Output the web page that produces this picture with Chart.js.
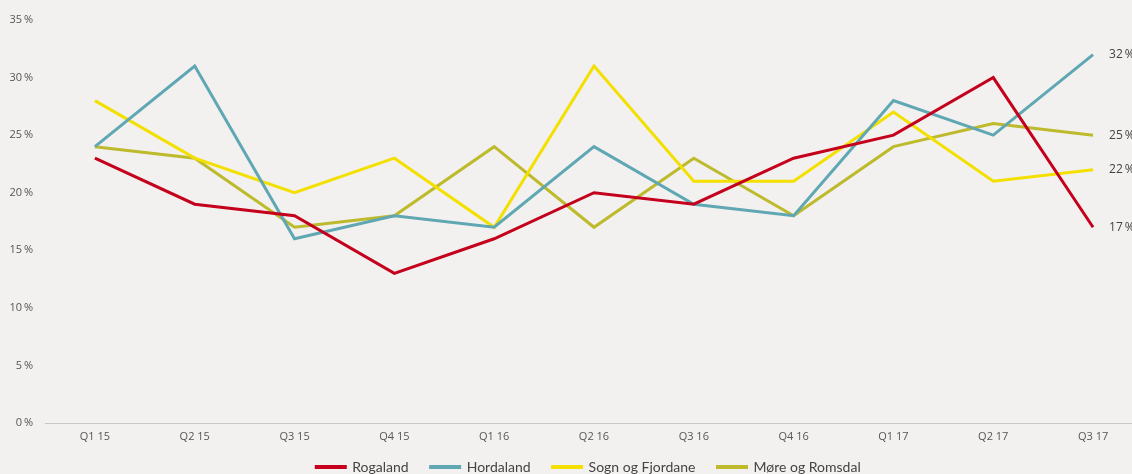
<!DOCTYPE html>
<html>
<head>
<meta charset="utf-8">
<script src="https://cdn.jsdelivr.net/npm/chart.js@4.4.1/dist/chart.umd.min.js"></script>
<style>
  html, body { margin: 0; padding: 0; background: #f2f1ef; }
  #wrap { width: 1132px; height: 474px; }
</style>
</head>
<body>
<div id="wrap"><canvas id="grafico" width="1132" height="474"></canvas></div>
<script>
var kvartaler = ["Q1 15", "Q2 15", "Q3 15", "Q4 15", "Q1 16", "Q2 16", "Q3 16", "Q4 16", "Q1 17", "Q2 17", "Q3 17"];
var rogaland = [23, 19, 18, 13, 16, 20, 19, 23, 25, 30, 17];
var hordaland = [24, 31, 16, 18, 17, 24, 19, 18, 28, 25, 32];
var sognOgFjordane = [28, 23, 20, 23, 17, 31, 21, 21, 27, 21, 22];
var moreOgRomsdal = [24, 23, 17, 18, 24, 17, 23, 18, 24, 26, 25];
var yTicks = [0, 5, 10, 15, 20, 25, 30, 35];

function punkter(verdier) {
  return verdier.map(function (v, i) { return { x: i, y: v }; });
}

function serie(navn, verdier, farge) {
  return {
    label: navn,
    data: punkter(verdier),
    borderColor: farge,
    backgroundColor: farge,
    borderWidth: 3,
    pointRadius: 0,
    tension: 0,
    fill: false
  };
}

var sisteVerdi = {
  id: "sisteVerdi",
  afterInit: function (chart) {
    // legenden skal ikke ta så mye plass i høyden
    var leg = chart.legend;
    var fit0 = leg.fit;
    var draw0 = leg.draw;
    leg.fit = function () { fit0.call(this); this.height = 31; };
    leg.draw = function () {
      var t = this.top, b = this.bottom, h = this.height;
      this.top = t - 5;
      this.bottom = b + 5;
      this.height = h + 10;
      draw0.call(this);
      this.top = t;
      this.bottom = b;
      this.height = h;
    };
  },
  // etiketter ved siste punkt
  afterDatasetsDraw: function (chart) {
    var ctx = chart.ctx;
    ctx.save();
    ctx.font = "12px 'Open Sans', sans-serif";
    ctx.fillStyle = "#444";
    ctx.textBaseline = "middle";
    chart.data.datasets.forEach(function (ds, i) {
      var meta = chart.getDatasetMeta(i);
      var p = meta.data[meta.data.length - 1];
      var v = ds.data[ds.data.length - 1].y;
      ctx.fillText(v + "\u2009%", p.x + 16, p.y);
    });
    ctx.restore();
  }
};

var config = {
  type: "line",
  data: {
    datasets: [
      serie("Rogaland", rogaland, "#c4001c"),
      serie("Hordaland", hordaland, "#5fa7b3"),
      serie("Sogn og Fjordane", sognOgFjordane, "#f3e000"),
      serie("Møre og Romsdal", moreOgRomsdal, "#bdba2c")
    ]
  },
  options: {
    responsive: false,
    animation: false,
    layout: { padding: { top: 20, right: 0, bottom: 0, left: 0 } },
    plugins: {
      tooltip: { enabled: false },
      legend: {
        position: "bottom",
        fullSize: false,
        labels: {
          boxWidth: 29,
          boxHeight: 1,
          padding: 22,
          color: "#444",
          font: { family: "Lato, sans-serif", size: 14 }
        }
      }
    },
    scales: {
      x: {
        type: "linear",
        min: -0.5,
        max: 10.39,
        afterBuildTicks: function (axis) {
          axis.ticks = kvartaler.map(function (k, i) { return { value: i }; });
        },
        afterFit: function (axis) { axis.height = 20; },
        ticks: {
          callback: function (v) { return kvartaler[v]; },
          color: "#555",
          font: { family: "'Open Sans', sans-serif", size: 11 },
          padding: 7,
          maxRotation: 0,
          autoSkip: false
        },
        grid: { display: false, drawTicks: false },
        border: { color: "#c8c8c8", width: 1 }
      },
      y: {
        min: 0,
        max: 35,
        afterBuildTicks: function (axis) {
          axis.ticks = yTicks.map(function (t) { return { value: t }; });
        },
        afterFit: function (axis) { axis.width = 45; },
        ticks: {
          callback: function (v) { return v + "\u2009%"; },
          color: "#555",
          font: { family: "'Open Sans', sans-serif", size: 11 },
          padding: 12
        },
        grid: { display: false, drawTicks: false },
        border: { display: false }
      }
    }
  },
  plugins: [sisteVerdi]
};

var grafico = new Chart(document.getElementById("grafico"), config);
</script>
</body>
</html>
